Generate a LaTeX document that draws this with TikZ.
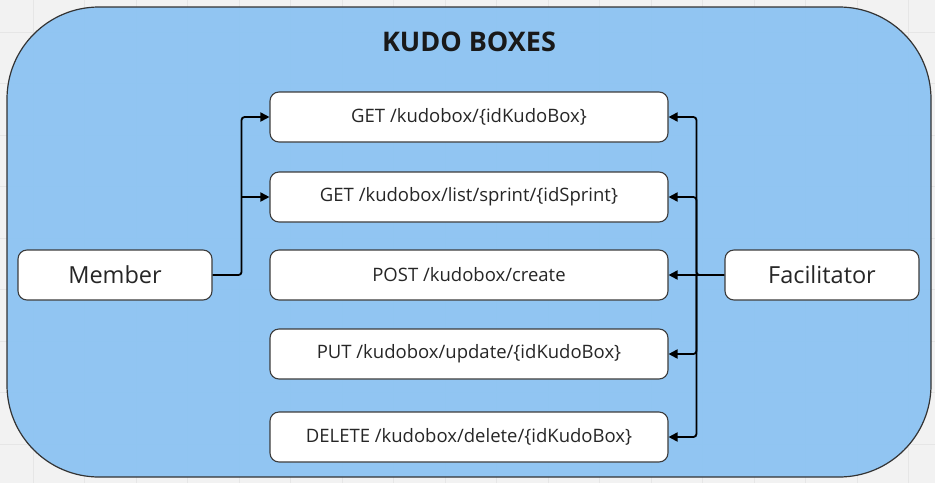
\documentclass[tikz,border=0pt]{standalone}
\usepackage{fontspec}
\setmainfont{Open Sans}
\usetikzlibrary{positioning,arrows.meta,calc}

\definecolor{panelblue}{RGB}{142,196,242}
\definecolor{paper}{RGB}{242,242,242}
\definecolor{gridgray}{RGB}{230,230,230}
\definecolor{edge}{RGB}{60,60,60}

\tikzset{
  endpoint/.style = {draw=edge, line width=1.1pt, fill=white, rounded corners=9pt,
                     minimum width=398pt, minimum height=50pt, inner sep=0pt,
                     font=\fontsize{18.5}{22}\selectfont, text=black!85},
  actor/.style    = {draw=edge, line width=1.1pt, fill=white, rounded corners=9pt,
                     minimum width=194pt, minimum height=50pt, inner sep=0pt,
                     font=\fontsize{23.5}{28}\selectfont, text=black!85},
  call/.style     = {line width=1.8pt, rounded corners=3pt,
                     -{Triangle[length=9pt,width=9pt]}},
  gridline/.style = {draw=gridgray, line width=0.8pt}
}

\begin{document}
\begin{tikzpicture}[x=1pt, y=-1pt]
\useasboundingbox (0,0) rectangle (935,483);
\fill[paper] (0,0) rectangle (935,483);
% faint canvas grid
\foreach \gx in {33,84.5,...,935} \draw[gridline] (\gx,0) -- (\gx,483);
\foreach \gy in {32,83.5,...,483} \draw[gridline] (0,\gy) -- (935,\gy);

% panel
\draw[fill=panelblue, fill opacity=0.97, draw=black!80, line width=1.2pt, rounded corners=92pt]
  (7,7) rectangle (931,477);
\node[font=\fontsize{27}{32}\selectfont\bfseries, text=black!90] (title) at (469,42) {KUDO BOXES};

% endpoints
\node[endpoint] (getbox)  at (469,117) {GET /kudobox/\{idKudoBox\}};
\node[endpoint] (getlist) at (469,197) {GET /kudobox/list/sprint/\{idSprint\}};
\node[endpoint] (create)  at (469,275) {POST /kudobox/create};
\node[endpoint] (update)  at (469,354) {PUT /kudobox/update/\{idKudoBox\}};
\node[endpoint] (delete)  at (469,437) {DELETE /kudobox/delete/\{idKudoBox\}};

% actors
\node[actor] (member) at (115,275) {Member};
\node[actor] (facil)  at (822,275) {Facilitator};

% member calls
\coordinate (mbus) at ($(member.east)+(29,0)$);
\draw[call] (member.east) -- (mbus) |- (getbox.west);
\draw[call] (mbus |- getlist.west) ++(0,0.01) -- (getlist.west);

% facilitator calls
\coordinate (fbus) at ($(facil.west)+(-28,0)$);
\draw[call] (facil.west) -- (fbus) |- (getbox.east);
\draw[call] (fbus) |- (getlist.east);
\draw[call] (facil.west) -- (create.east);
\draw[call] (fbus) |- (update.east);
\draw[call] (fbus) |- (delete.east);
\end{tikzpicture}
\end{document}
